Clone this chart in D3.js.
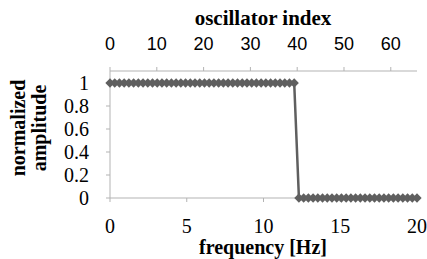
<!DOCTYPE html>
<html>
<head>
  <meta charset="UTF-8">
  <style>
    body { margin: 0; padding: 0; background: #fff; }
    svg { display: block; }
    .serif { font-family: "Liberation Serif", "Times New Roman", serif; }
    .sans { font-family: "Liberation Sans", Arial, sans-serif; }
  </style>
</head>
<body>
  <svg></svg>
  <script src="https://d3js.org/d3.v7.min.js"></script>
  <script>
    const width = 427, height = 259;

    // oscillator indices 0..65, spread over 0..20 Hz
    const oscIndex = d3.range(0, 66);
    const amplitude = [
      1,1,1,1,1,1,1,1,1,1, 1,1,1,1,1,1,1,1,1,1,
      1,1,1,1,1,1,1,1,1,1, 1,1,1,1,1,1,1,1,1,1,
      0,0,0,0,0,0,0,0,0,0, 0,0,0,0,0,0,0,0,0,0,
      0,0,0,0,0,0
    ];
    const freqTicks = [0, 5, 10, 15, 20];
    const indexTicks = [0, 10, 20, 30, 40, 50, 60];
    const ampTicks = [0, 0.2, 0.4, 0.6, 0.8, 1];

    const plotL = 110, plotR = 417, plotT = 83, plotB = 198;
    const axisColor = "#b3b3b3", lineColor = "#5f5f5f";

    const svg = d3.select("svg").attr("width", width).attr("height", height);

    const x = d3.scaleLinear().domain([0, 20]).range([plotL, plotR]);
    const xTop = d3.scaleLinear().domain([0, 65.6]).range([plotL, plotR]);
    const y = d3.scaleLinear().domain([0, 1]).range([plotB, plotT]);
    const freqOf = i => i * 20 / 65;

    // top axis (oscillator index)
    const topY = 71;
    svg.append("line").attr("x1", plotL).attr("x2", plotR).attr("y1", topY).attr("y2", topY)
      .attr("stroke", axisColor).attr("stroke-width", 1);
    svg.selectAll(".ttick").data(indexTicks).enter().append("line")
      .attr("x1", d => xTop(d)).attr("x2", d => xTop(d))
      .attr("y1", topY - 4).attr("y2", topY).attr("stroke", axisColor);
    svg.selectAll(".tlab").data(indexTicks).enter().append("text")
      .attr("class", "sans").attr("x", d => xTop(d)).attr("y", 50)
      .attr("text-anchor", "middle").attr("font-size", 18).attr("fill", "#000")
      .text(d => d);
    svg.append("text").attr("class", "serif").attr("x", 263).attr("y", 25)
      .attr("text-anchor", "middle").attr("font-size", 21).attr("font-weight", "bold")
      .text("oscillator index");

    // y axis
    svg.append("line").attr("x1", plotL).attr("x2", plotL).attr("y1", topY).attr("y2", plotB)
      .attr("stroke", axisColor);
    svg.selectAll(".ytick").data(ampTicks).enter().append("line")
      .attr("x1", plotL - 4).attr("x2", plotL).attr("y1", d => y(d)).attr("y2", d => y(d))
      .attr("stroke", axisColor);
    svg.selectAll(".ylab").data(ampTicks).enter().append("text")
      .attr("class", "serif").attr("x", 89).attr("y", d => y(d)).attr("dy", "0.34em")
      .attr("text-anchor", "end").attr("font-size", 20).attr("fill", "#000")
      .text(d => d);
    const yl = svg.append("text").attr("class", "serif")
      .attr("transform", "translate(25,128) rotate(-90)")
      .attr("text-anchor", "middle").attr("font-size", 20).attr("font-weight", "bold");
    yl.append("tspan").attr("x", 0).attr("dy", 0).text("normalized");
    yl.append("tspan").attr("x", 0).attr("dy", 21).text("amplitude");

    // bottom axis (frequency)
    svg.append("line").attr("x1", plotL).attr("x2", plotR).attr("y1", plotB).attr("y2", plotB)
      .attr("stroke", axisColor);
    svg.selectAll(".btick").data(freqTicks).enter().append("line")
      .attr("x1", d => x(d)).attr("x2", d => x(d))
      .attr("y1", plotB).attr("y2", plotB + 4).attr("stroke", axisColor);
    svg.selectAll(".blab").data(freqTicks).enter().append("text")
      .attr("class", "serif").attr("x", d => x(d)).attr("y", 233)
      .attr("text-anchor", "middle").attr("font-size", 20).attr("fill", "#000")
      .text(d => d);
    svg.append("text").attr("class", "serif").attr("x", 263).attr("y", 254)
      .attr("text-anchor", "middle").attr("font-size", 20).attr("font-weight", "bold")
      .text("frequency [Hz]");

    // series
    const pts = oscIndex.map((i, k) => [freqOf(i), amplitude[k]]);
    svg.append("path").datum(pts)
      .attr("d", d3.line().x(d => x(d[0])).y(d => y(d[1])))
      .attr("fill", "none").attr("stroke", lineColor).attr("stroke-width", 2.5);
    svg.selectAll(".pt").data(pts).enter().append("path")
      .attr("d", d3.symbol().type(d3.symbolDiamond2).size(55))
      .attr("transform", d => `translate(${x(d[0])},${y(d[1])})`)
      .attr("fill", lineColor);
  </script>
</body>
</html>
